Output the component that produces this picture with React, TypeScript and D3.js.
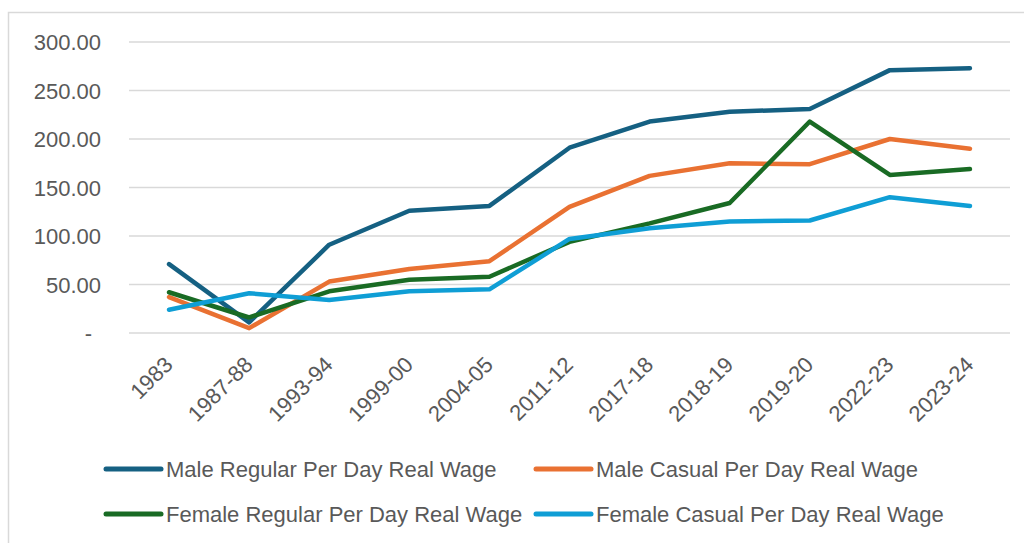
import { useRef, useEffect } from 'react';
import * as d3 from 'd3';

// categories and series
const years = ['1983', '1987-88', '1993-94', '1999-00', '2004-05', '2011-12', '2017-18', '2018-19', '2019-20', '2022-23', '2023-24'];
const maleRegular = [71, 11, 91, 126, 131, 191, 218, 228, 231, 271, 273];
const maleCasual = [37, 5, 53, 66, 74, 130, 162, 175, 174, 200, 190];
const femaleRegular = [42, 16, 43, 55, 58, 94, 113, 134, 218, 163, 169];
const femaleCasual = [24, 41, 34, 43, 45, 97, 108, 115, 116, 140, 131];
const yTicks = [0, 50, 100, 150, 200, 250, 300];

const seriesNames = [
  'Male Regular Per Day Real Wage',
  'Male Casual Per Day Real Wage',
  'Female Regular Per Day Real Wage',
  'Female Casual Per Day Real Wage',
];
const seriesValues = [maleRegular, maleCasual, femaleRegular, femaleCasual];
const colors = ['#156082', '#E97132', '#196B24', '#0F9ED5'];

const W = 1024;
const H = 543;
const FONT = '"Liberation Sans", Arial, sans-serif';
const TEXT = '#595959';

export default function App() {
  const svgRef = useRef<SVGSVGElement>(null);

  useEffect(() => {
    if (!svgRef.current) return;
    const svg = d3.select(svgRef.current);
    svg.selectAll('*').remove();

    const plot = { left: 129, right: 1010, top: 42, bottom: 333 };

    const x = d3.scaleBand<string>()
      .domain(years)
      .range([plot.left, plot.right]);
    const y = d3.scaleLinear()
      .domain([0, 300])
      .range([plot.bottom, plot.top]);

    // chart frame (runs off the page at right and bottom)
    svg.append('rect')
      .attr('x', 8.5)
      .attr('y', 12.5)
      .attr('width', 1030)
      .attr('height', 560)
      .attr('fill', '#fff')
      .attr('stroke', '#D9D9D9')
      .attr('stroke-width', 1.5);

    // gridlines
    svg.append('g')
      .selectAll('line')
      .data(yTicks)
      .enter()
      .append('line')
      .attr('x1', plot.left)
      .attr('x2', plot.right)
      .attr('y1', (d) => y(d))
      .attr('y2', (d) => y(d))
      .attr('stroke', '#D9D9D9')
      .attr('stroke-width', 1.5);

    // y labels
    svg.append('g')
      .selectAll('text')
      .data(yTicks)
      .enter()
      .append('text')
      .attr('x', (d) => (d === 0 ? 92 : 101))
      .attr('y', (d) => y(d) + 8)
      .attr('text-anchor', 'end')
      .attr('font-family', FONT)
      .attr('font-size', 22)
      .attr('fill', TEXT)
      .text((d) => (d === 0 ? '-' : d3.format('.2f')(d)));

    // x labels, rotated
    svg.append('g')
      .selectAll('text')
      .data(years)
      .enter()
      .append('text')
      .attr('transform', (d) => `translate(${(x(d) ?? 0) + x.bandwidth() / 2 + 5},${366}) rotate(-45)`)
      .attr('text-anchor', 'end')
      .attr('font-family', FONT)
      .attr('font-size', 22)
      .attr('fill', TEXT)
      .text((d) => d);

    // series lines
    const line = d3.line<number>()
      .x((_, i) => (x(years[i]) ?? 0) + x.bandwidth() / 2)
      .y((d) => y(d));

    seriesValues.forEach((vals, i) => {
      svg.append('path')
        .datum(vals)
        .attr('d', line)
        .attr('fill', 'none')
        .attr('stroke', colors[i])
        .attr('stroke-width', 4.5)
        .attr('stroke-linecap', 'round')
        .attr('stroke-linejoin', 'round');
    });

    // legend, two columns by two rows
    const colX = [106, 536];
    const rowY = [469, 514];
    seriesNames.forEach((name, i) => {
      const lx = colX[i % 2];
      const ly = rowY[Math.floor(i / 2)];
      const item = svg.append('g');
      item.append('line')
        .attr('x1', lx)
        .attr('x2', lx + 55)
        .attr('y1', ly)
        .attr('y2', ly)
        .attr('stroke', colors[i])
        .attr('stroke-width', 5)
        .attr('stroke-linecap', 'round');
      item.append('text')
        .attr('x', lx + 60)
        .attr('y', ly + 8)
        .attr('font-family', FONT)
        .attr('font-size', 22)
        .attr('fill', TEXT)
        .text(name);
    });
  }, []);

  return (
    <div style={{ position: 'absolute', left: 0, top: 0 }}>
      <svg ref={svgRef} width={W} height={H} style={{ display: 'block' }} />
    </div>
  );
}
